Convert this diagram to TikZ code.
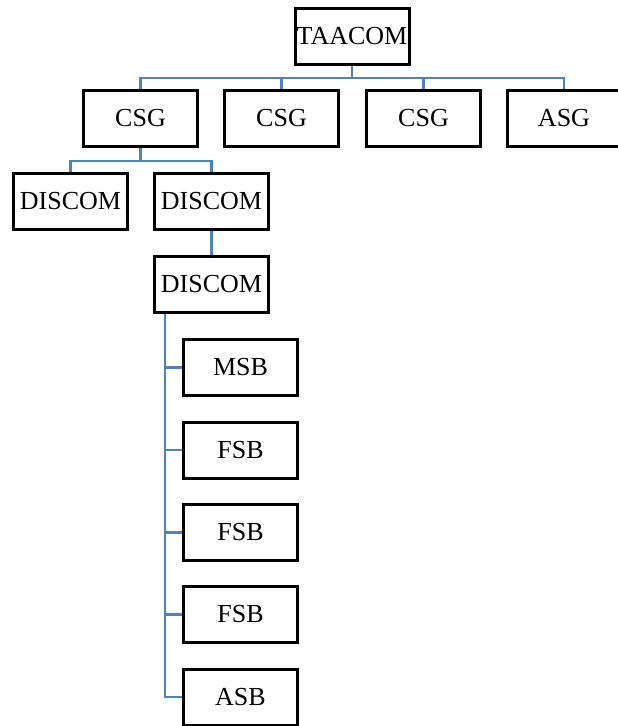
\documentclass[tikz,border=0pt]{standalone}
\usepackage{fontspec}
\setmainfont{Liberation Serif}
\begin{document}
\begin{tikzpicture}[x=1pt,y=-1pt,
  box/.style={draw=black,line width=3pt,rectangle,minimum width=114pt,minimum height=56pt,inner sep=0pt,font=\fontsize{26}{28}\selectfont,fill=white},
  conn/.style={draw={rgb,255:red,79;green,129;blue,189},line width=2.4pt}]
\useasboundingbox (0,0) rectangle (618,726);
\node[box] (t) at (352,36) {TAACOM};
\node[box] (c1) at (140.5,118.5) {CSG};
\node[box] (c2) at (281.5,118.5) {CSG};
\node[box] (c3) at (423.5,118.5) {CSG};
\node[box] (a) at (564,118.5) {ASG};
\node[box] (d1) at (70.5,201.5) {DISCOM};
\node[box] (d2) at (211.5,201.5) {DISCOM};
\node[box] (d3) at (211.5,284.5) {DISCOM};
\node[box] (m) at (240.5,367.5) {MSB};
\node[box] (f1) at (240.5,450) {FSB};
\node[box] (f2) at (240.5,532.5) {FSB};
\node[box] (f3) at (240.5,614.5) {FSB};
\node[box] (s) at (240.5,697) {ASB};
\coordinate (bar) at (0,78);
\coordinate (bar2) at (0,161);
\coordinate (sp) at (165,0);
\draw[conn] (t.south) -- (t.south |- bar) -| (c1.north);
\draw[conn] (t.south |- bar) -| (c2.north);
\draw[conn] (t.south |- bar) -| (c3.north);
\draw[conn] (t.south |- bar) -| (a.north);
\draw[conn] (c1.south) -- (c1.south |- bar2) -| (d1.north);
\draw[conn] (c1.south |- bar2) -| (d2.north);
\draw[conn] (d2.south) -- (d3.north);
\draw[conn] (d3.south -| sp) |- (m.west);
\draw[conn] (d3.south -| sp) |- (f1.west);
\draw[conn] (d3.south -| sp) |- (f2.west);
\draw[conn] (d3.south -| sp) |- (f3.west);
\draw[conn] (d3.south -| sp) |- (s.west);
\end{tikzpicture}
\end{document}
